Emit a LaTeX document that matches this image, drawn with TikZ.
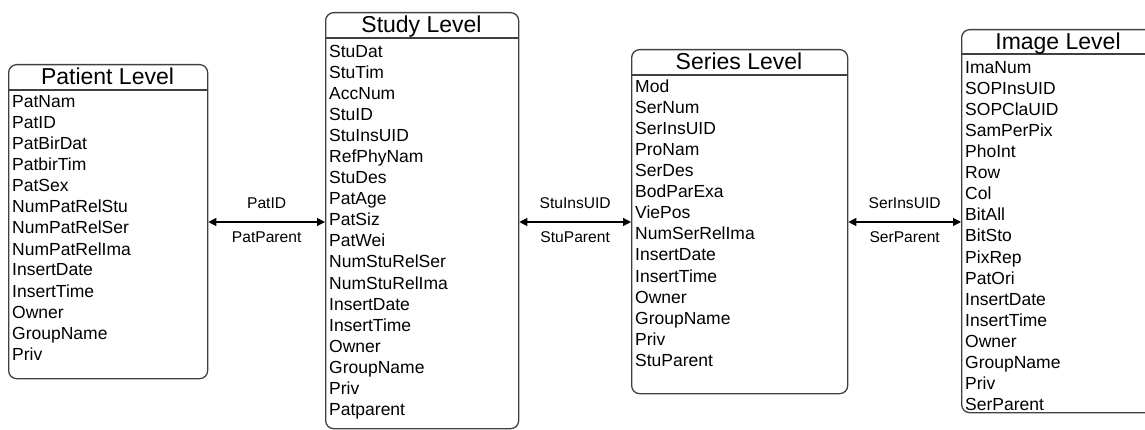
\documentclass[tikz,border=0pt]{standalone}
\usepackage{fontspec}
\setmainfont{Liberation Sans}
\usetikzlibrary{arrows.meta}

% #1 name, #2 left, #3 top, #4 width, #5 height, #6 header rule,
% #7 first field baseline, #8 title, #9 fields
\newcommand\dbtable[9]{%
  \node[tablebox, minimum width=#4pt, minimum height=#5pt] (#1) at (#2,#3) {};
  \draw[tablerule] (#1.west |- 0,#6) -- (#1.east |- 0,#6);
  \node[tabletitle] (#1-title) at ({#2+#4/2},{(#3+#6)/2+8}) {#8};
  \foreach \f [count=\i] in {#9}
    \node[field] (#1-\i) at ({#2+4},{#7+21*(\i-1)}) {\f};
}

\begin{document}
\begin{tikzpicture}[x=1pt,y=-1pt,
  tablebox/.style={draw=black!75, line width=1.3pt, rounded corners=8pt,
    anchor=north west, inner sep=0pt},
  tablerule/.style={draw=black!75, line width=1.3pt},
  tabletitle/.style={anchor=base, inner sep=0pt, font=\fontsize{23}{27}\selectfont},
  field/.style={anchor=base west, inner sep=0pt, font=\fontsize{17.5}{21}\selectfont},
  rel/.style={anchor=base, inner sep=0pt, font=\fontsize{15.6}{18}\selectfont},
  link/.style={line width=1.1pt,
    {Triangle[length=8pt,width=8pt]}-{Triangle[length=8pt,width=8pt]}},
]
\useasboundingbox (0,0) rectangle (1145,430);
\clip (0,0) rectangle (1145,430);

\dbtable{pat}{8}{64}{199}{314}{90}{108}{Patient Level}
  {PatNam,PatID,PatBirDat,PatbirTim,PatSex,NumPatRelStu,NumPatRelSer,
   NumPatRelIma,InsertDate,InsertTime,Owner,GroupName,Priv}

\dbtable{stu}{325}{12}{193}{416}{38}{58}{Study Level}
  {StuDat,StuTim,AccNum,StuID,StuInsUID,RefPhyNam,StuDes,PatAge,PatSiz,
   PatWei,NumStuRelSer,NumStuRelIma,InsertDate,InsertTime,Owner,GroupName,
   Priv,Patparent}

\dbtable{ser}{631}{49}{216}{344}{75}{93}{Series Level}
  {Mod,SerNum,SerInsUID,ProNam,SerDes,BodParExa,ViePos,NumSerRelIma,
   InsertDate,InsertTime,Owner,GroupName,Priv,StuParent}

\dbtable{ima}{961}{29}{194}{383}{54}{74}{Image Level}
  {ImaNum,SOPInsUID,SOPClaUID,SamPerPix,PhoInt,Row,Col,BitAll,BitSto,
   PixRep,PatOri,InsertDate,InsertTime,Owner,GroupName,Priv,SerParent}

% relations between the levels
\coordinate (ay) at (0,222);
\draw[link] (pat.east |- ay) -- (stu.west |- ay)
  node[rel, midway, yshift=13.4pt] (patid) {PatID}
  node[rel, midway, yshift=-20.6pt] (patparent) {PatParent};
\draw[link] (stu.east |- ay) -- (ser.west |- ay)
  node[rel, midway, yshift=13.4pt] (stuinsuid) {StuInsUID}
  node[rel, midway, yshift=-20.6pt] (stuparent) {StuParent};
\draw[link] (ser.east |- ay) -- (ima.west |- ay)
  node[rel, midway, yshift=13.4pt] (serinsuid) {SerInsUID}
  node[rel, midway, yshift=-20.6pt] (serparent) {SerParent};
\end{tikzpicture}
\end{document}
